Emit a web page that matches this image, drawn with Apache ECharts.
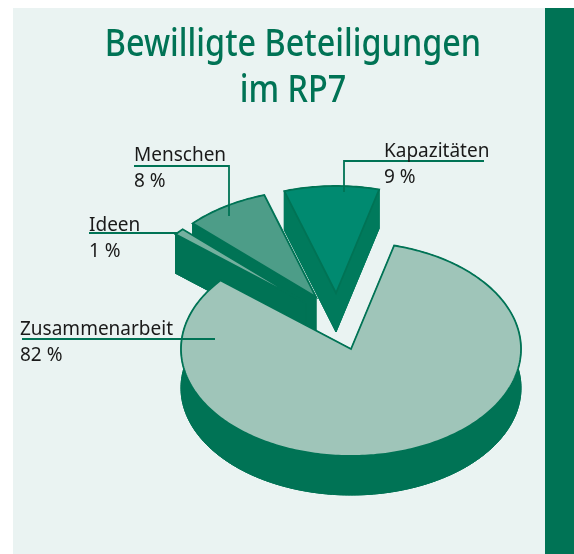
<!DOCTYPE html>
<html>
<head>
<meta charset="utf-8">
<title>Bewilligte Beteiligungen im RP7</title>
<style>
  html, body { margin: 0; padding: 0; background: #fff; }
  #chart { width: 574px; height: 554px; }
</style>
<script src="https://cdn.jsdelivr.net/npm/echarts@6/dist/echarts.min.js"></script>
</head>
<body>
<div id="chart"></div>
<script>
// Daten
var categories = ['Kapazitäten', 'Menschen', 'Ideen', 'Zusammenarbeit'];
var shares = [9, 8, 1, 82];
var titleLines = ['Bewilligte Beteiligungen', 'im RP7'];

// Layout der Scheiben (gleiche Reihenfolge wie categories)
var pieCenter = [351, 349];
var radiusX = 170;
var radiusY = 107;
var depth = 39;
var firstEdge = 14.7; // Grad im Uhrzeigersinn von oben
var explode = [[-15, -56], [-35, -52], [-45, -46], [0, 0]];
var topColors = ['#008a70', '#4d9d88', '#74b09f', '#9fc5b9'];
var wallColors = ['#007a5c', '#007355', '#007355', '#007355'];
var edgeColor = '#007355';

// Beschriftungen
var labelX = [384, 134, 89, 20];
var labelY = [152, 156, 226, 330];
var leaders = [
    [[484, 161], [344, 161], [344, 192]],
    [[134, 166], [229, 166], [229, 216]],
    [[89, 233], [178, 233]],
    [[22, 339], [215, 339]]
];

var labelFont = '"Noto Sans", sans-serif';

function arcPoints(cx, cy, from, to) {
    var pts = [];
    var n = Math.max(2, Math.ceil(Math.abs(to - from)));
    for (var i = 0; i <= n; i++) {
        var a = (from + (to - from) * i / n) * Math.PI / 180;
        pts.push([cx + radiusX * Math.sin(a), cy - radiusY * Math.cos(a)]);
    }
    return pts;
}

function renderSlice(params, api) {
    var i = params.dataIndex;
    // Scheiben laufen gegen den Uhrzeigersinn
    var before = 0;
    for (var k = 0; k < i; k++) before += shares[k];
    var total = shares.reduce(function (a, b) { return a + b; }, 0);
    var start = firstEdge - before / total * 360;
    var end = start - api.value(0) / total * 360;
    var cx = pieCenter[0] + explode[i][0];
    var cy = pieCenter[1] + explode[i][1];

    var arcTop = arcPoints(cx, cy, start, end);
    var arcBottom = arcPoints(cx, cy + depth, start, end);
    var first = arcTop[0];
    var last = arcTop[arcTop.length - 1];
    var wallStyle = { fill: wallColors[i], stroke: wallColors[i], lineWidth: 1 };

    return {
        type: 'group',
        children: [
            { type: 'polygon', shape: { points: [[cx, cy + depth]].concat(arcBottom) }, style: wallStyle },
            { type: 'polygon', shape: { points: arcTop.concat(arcBottom.slice().reverse()) }, style: wallStyle },
            { type: 'polygon', shape: { points: [[cx, cy], first, [first[0], first[1] + depth], [cx, cy + depth]] }, style: wallStyle },
            { type: 'polygon', shape: { points: [[cx, cy], last, [last[0], last[1] + depth], [cx, cy + depth]] }, style: wallStyle },
            { type: 'polygon', shape: { points: [[cx, cy]].concat(arcTop) },
              style: { fill: topColors[i], stroke: edgeColor, lineWidth: 1.8, lineJoin: 'miter' } }
        ]
    };
}

var graphics = [
    { type: 'rect', z: -10, silent: true, shape: { x: 13, y: 8, width: 532, height: 546 }, style: { fill: '#eaf3f2' } },
    { type: 'rect', z: -10, silent: true, shape: { x: 545, y: 8, width: 29, height: 546 }, style: { fill: '#007355' } }
];
// Titel: Noto Sans schmaler gezogen, kein Condensed-Schnitt verfuegbar
titleLines.forEach(function (line, i) {
    graphics.push({
        type: 'text', z: 101, silent: true, x: 293, y: 45 + i * 46, scaleX: 0.852,
        style: { text: line, fill: edgeColor, font: '500 38px ' + labelFont, textAlign: 'center', textVerticalAlign: 'middle' }
    });
});
categories.forEach(function (name, i) {
    graphics.push({
        type: 'polyline', z: 100, silent: true,
        shape: { points: leaders[i] },
        style: { stroke: edgeColor, lineWidth: 1.8, fill: null }
    });
    graphics.push({
        type: 'text', z: 101, silent: true, x: labelX[i], y: labelY[i],
        style: { text: name, fill: '#1a1a1a', font: '19px ' + labelFont, textVerticalAlign: 'middle' }
    });
    graphics.push({
        type: 'text', z: 101, silent: true, x: labelX[i], y: labelY[i] + 26,
        style: { text: shares[i] + ' %', fill: '#1a1a1a', font: '19px ' + labelFont, textVerticalAlign: 'middle' }
    });
});

var myChart = echarts.init(document.getElementById('chart'), null, { renderer: 'canvas' });
myChart.setOption({
    animation: false,
    graphic: graphics,
    series: [{
        type: 'custom',
        coordinateSystem: 'none',
        silent: true,
        data: shares,
        renderItem: renderSlice
    }]
});
</script>
</body>
</html>
